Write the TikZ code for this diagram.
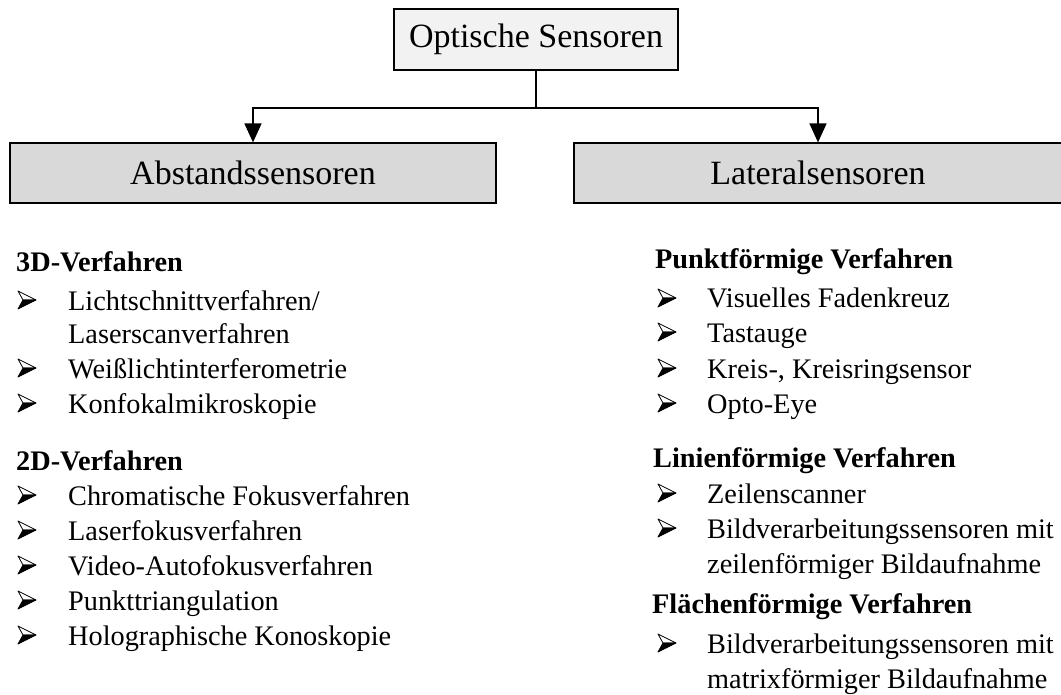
\documentclass[tikz,border=0pt]{standalone}
\usepackage{fontspec}
\setmainfont{Liberation Serif}
\usetikzlibrary{arrows.meta}
\definecolor{topfill}{HTML}{F2F2F2}
\definecolor{boxfill}{HTML}{D9D9D9}
\tikzset{
  topbox/.style={draw=black, line width=1.2pt, fill=topfill, minimum width=284pt, minimum height=61pt, inner sep=0pt, font=\fontsize{34}{40}\selectfont},
  catbox/.style={draw=black, line width=1.2pt, fill=boxfill, minimum width=486pt, minimum height=60pt, inner sep=0pt, font=\fontsize{34}{40}\selectfont},
  conn/.style={line width=1.5pt, -{Triangle[length=19pt,width=17pt]}},
  head/.style={anchor=base west, inner sep=0pt, font=\fontsize{28.3}{34}\selectfont\bfseries},
  item/.style={anchor=base west, inner sep=0pt, font=\fontsize{28.3}{34}\selectfont},
  bulletarrow/.pic={
    \filldraw[fill=white, draw=black, line width=0.8pt, line join=round] (0,-18) -- (18,-9) -- (5,-9) -- cycle;
    \filldraw[fill=black, draw=black, line width=0.8pt, line join=round] (5,-9) -- (18,-9) -- (0,0) -- cycle;
  },
}
\begin{document}
\begin{tikzpicture}[x=1pt,y=-1pt]
\useasboundingbox (0,0) rectangle (1061,695);
\node[topbox] (top) at (536,39.5) {Optische Sensoren};
\node[catbox] (abst) at (253,173) {Abstandssensoren};
\node[catbox, minimum width=488pt] (lat) at (818,173) {Lateralsensoren};
\coordinate (junc) at (536,108);
\draw[line width=1.5pt] (top.south) -- (junc);
\draw[conn] (junc) -| (abst.north);
\draw[conn] (junc) -| (lat.north);

% left column
\node[head] (h3d) at (16,272) {3D-Verfahren};
\pic at (18,309) {bulletarrow};
\node[item] (i1) at (68,310) {Lichtschnittverfahren/};
\node[item] (i1b) at (68,344) {Laserscanverfahren};
\pic at (18,377) {bulletarrow};
\node[item] (i2) at (68,378) {Weißlichtinterferometrie};
\pic at (18,412) {bulletarrow};
\node[item] (i3) at (68,413) {Konfokalmikroskopie};

\node[head] (h2d) at (16,470) {2D-Verfahren};
\pic at (18,504) {bulletarrow};
\node[item] (i4) at (68,505) {Chromatische Fokusverfahren};
\pic at (18,539) {bulletarrow};
\node[item] (i5) at (68,540) {Laserfokusverfahren};
\pic at (18,574) {bulletarrow};
\node[item] (i6) at (68,575) {Video-Autofokusverfahren};
\pic at (18,609) {bulletarrow};
\node[item] (i7) at (68,610) {Punkttriangulation};
\pic at (18,644) {bulletarrow};
\node[item] (i8) at (68,645) {Holographische Konoskopie};

% right column
\node[head] (hp) at (655,269) {Punktförmige Verfahren};
\pic at (658,307) {bulletarrow};
\node[item] (j1) at (707,308) {Visuelles Fadenkreuz};
\pic at (658,341) {bulletarrow};
\node[item] (j2) at (707,342) {Tastauge};
\pic at (658,377) {bulletarrow};
\node[item] (j3) at (707,378) {Kreis-, Kreisringsensor};
\pic at (658,412) {bulletarrow};
\node[item] (j4) at (707,413) {Opto-Eye};

\node[head] (hl) at (653,467) {Linienförmige Verfahren};
\pic at (658,502) {bulletarrow};
\node[item] (j5) at (707,503) {Zeilenscanner};
\pic at (658,537) {bulletarrow};
\node[item] (j6) at (707,538) {Bildverarbeitungssensoren mit};
\node[item] (j6b) at (707,573) {zeilenförmiger Bildaufnahme};

\node[head] (hf) at (652,613) {Flächenförmige Verfahren};
\pic at (658,652) {bulletarrow};
\node[item] (j7) at (707,653) {Bildverarbeitungssensoren mit};
\node[item] (j7b) at (707,688) {matrixförmiger Bildaufnahme};
\end{tikzpicture}
\end{document}
